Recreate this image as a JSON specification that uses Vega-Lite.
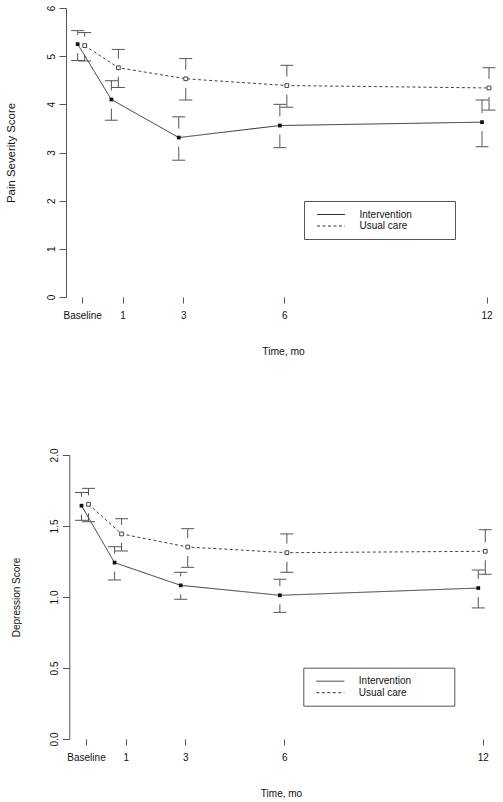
{
  "$schema": "https://vega.github.io/schema/vega-lite/v6.json",
  "padding": {"left": 5, "top": 5, "right": 0, "bottom": 0},
  "background": "white",
  "config": {
    "view": {"stroke": null},
    "font": "Liberation Sans",
    "axis": {
      "grid": false,
      "domainColor": "#555",
      "tickColor": "#555",
      "labelColor": "#111",
      "titleColor": "#111",
      "labelFontSize": 10,
      "titleFontSize": 10,
      "titleFontWeight": "normal",
      "labelFont": "Liberation Sans",
      "titleFont": "Liberation Sans",
      "labelFlush": false,
      "labelOverlap": false
    },
    "axisY": {
      "tickSize": 7,
      "labelAngle": 270,
      "labelAlign": "center",
      "labelBaseline": "bottom",
      "labelPadding": 3,
      "titlePadding": 30
    },
    "axisX": {
      "domain": false,
      "tickSize": 6,
      "labelPadding": 7,
      "titlePadding": 26
    },
    "legend": {
      "orient": "none",
      "title": null,
      "symbolType": "M-2.8,0H2.8M22.8,0",
      "symbolSize": 100,
      "symbolOffset": 13.5,
      "symbolStrokeWidth": 1,
      "symbolStrokeColor": "#333",
      "symbolFillColor": "transparent",
      "labelFont": "Liberation Sans",
      "labelFontSize": 10,
      "labelColor": "#111",
      "strokeColor": "#555",
      "fillColor": "white",
      "padding": 8,
      "labelOffset": 23,
      "rowPadding": 0.5
    }
  },
  "datasets": {
    "pain": [
      {"time": 0, "group": "Intervention", "mean": 5.25, "lo": 4.91, "hi": 5.53},
      {"time": 1, "group": "Intervention", "mean": 4.10, "lo": 3.67, "hi": 4.49},
      {"time": 3, "group": "Intervention", "mean": 3.31, "lo": 2.84, "hi": 3.74},
      {"time": 6, "group": "Intervention", "mean": 3.56, "lo": 3.10, "hi": 4.00},
      {"time": 12, "group": "Intervention", "mean": 3.63, "lo": 3.12, "hi": 4.09},
      {"time": 0, "group": "Usual care", "mean": 5.22, "lo": 4.90, "hi": 5.49},
      {"time": 1, "group": "Usual care", "mean": 4.76, "lo": 4.35, "hi": 5.14},
      {"time": 3, "group": "Usual care", "mean": 4.53, "lo": 4.09, "hi": 4.95},
      {"time": 6, "group": "Usual care", "mean": 4.39, "lo": 3.94, "hi": 4.81},
      {"time": 12, "group": "Usual care", "mean": 4.34, "lo": 3.88, "hi": 4.76}
    ],
    "dep": [
      {"time": 0, "group": "Intervention", "mean": 1.643, "lo": 1.540, "hi": 1.736},
      {"time": 1, "group": "Intervention", "mean": 1.242, "lo": 1.120, "hi": 1.354},
      {"time": 3, "group": "Intervention", "mean": 1.082, "lo": 0.984, "hi": 1.174},
      {"time": 6, "group": "Intervention", "mean": 1.012, "lo": 0.892, "hi": 1.125},
      {"time": 12, "group": "Intervention", "mean": 1.063, "lo": 0.923, "hi": 1.190},
      {"time": 0, "group": "Usual care", "mean": 1.653, "lo": 1.530, "hi": 1.765},
      {"time": 1, "group": "Usual care", "mean": 1.444, "lo": 1.324, "hi": 1.551},
      {"time": 3, "group": "Usual care", "mean": 1.352, "lo": 1.209, "hi": 1.481},
      {"time": 6, "group": "Usual care", "mean": 1.312, "lo": 1.174, "hi": 1.444},
      {"time": 12, "group": "Usual care", "mean": 1.322, "lo": 1.160, "hi": 1.474}
    ]
  },
  "columns": 1,
  "bounds": "flush",
  "spacing": 158,
  "resolve": {
    "scale": {"x": "independent", "y": "independent", "strokeDash": "independent"},
    "legend": {"strokeDash": "independent"}
  },
  "concat": [
    {
      "width": 434,
      "height": 289,
      "data": {"name": "pain"},
      "encoding": {
        "x": {
          "field": "time",
          "type": "quantitative",
          "scale": {"domain": [-0.48, 12.4], "nice": false, "zero": false},
          "axis": {
            "values": [0, 1.2, 3, 6, 12],
            "title": "Time, mo",
            "titleFontSize": 10.3,
            "labelExpr": "datum.value === 0 ? 'Baseline' : (datum.value === 1.2 ? '1' : datum.label)"
          }
        }
      },
      "layer": [
        {
          "data": {"values": [{}]},
          "mark": {"type": "rule", "color": "#555", "strokeWidth": 1},
          "encoding": {
            "x": {"datum": 0, "type": "quantitative"},
            "x2": {"datum": 12},
            "y": {"datum": 0, "type": "quantitative"}
          }
        },
        {
          "transform": [{"filter": "datum.group === 'Intervention'"}],
          "mark": {"type": "line", "xOffset": -4.5, "color": "#333", "strokeWidth": 1},
          "encoding": {
            "y": {
              "field": "mean",
              "type": "quantitative",
              "scale": {"domain": [0, 6], "nice": false, "zero": false},
              "axis": {"values": [0, 1, 2, 3, 4, 5, 6], "title": "Pain Severity Score", "titleFontSize": 11.4}
            },
            "strokeDash": {
              "field": "group",
              "type": "nominal",
              "scale": {"domain": ["Intervention", "Usual care"], "range": [[1, 0], [3, 2.5]]},
              "legend": {"legendX": 238, "legendY": 193, "symbolType": "M-2.8,0H2.8M22.8,0"}
            }
          }
        },
        {
          "transform": [{"filter": "datum.group === 'Usual care'"}],
          "mark": {"type": "line", "xOffset": 2.5, "color": "#444", "strokeWidth": 1},
          "encoding": {
            "y": {"field": "mean", "type": "quantitative"},
            "strokeDash": {"field": "group", "type": "nominal"}
          }
        },
        {
          "transform": [{"filter": "datum.group === 'Intervention'"}],
          "mark": {"type": "rule", "xOffset": -4.5, "y2Offset": -9, "color": "#555"},
          "encoding": {"y": {"field": "hi", "type": "quantitative"}, "y2": {"field": "mean"}}
        },
        {
          "transform": [{"filter": "datum.group === 'Intervention'"}],
          "mark": {"type": "rule", "xOffset": -4.5, "y2Offset": 9, "color": "#555"},
          "encoding": {"y": {"field": "lo", "type": "quantitative"}, "y2": {"field": "mean"}}
        },
        {
          "transform": [{"filter": "datum.group === 'Intervention'"}],
          "mark": {"type": "rule", "xOffset": -11, "x2Offset": 2, "color": "#555"},
          "encoding": {"x2": {"field": "time"}, "y": {"field": "hi", "type": "quantitative"}}
        },
        {
          "transform": [{"filter": "datum.group === 'Intervention'"}],
          "mark": {"type": "rule", "xOffset": -11, "x2Offset": 2, "color": "#555"},
          "encoding": {"x2": {"field": "time"}, "y": {"field": "lo", "type": "quantitative"}}
        },
        {
          "transform": [{"filter": "datum.group === 'Usual care'"}],
          "mark": {"type": "rule", "xOffset": 2.5, "y2Offset": -9, "color": "#555"},
          "encoding": {"y": {"field": "hi", "type": "quantitative"}, "y2": {"field": "mean"}}
        },
        {
          "transform": [{"filter": "datum.group === 'Usual care'"}],
          "mark": {"type": "rule", "xOffset": 2.5, "y2Offset": 9, "color": "#555"},
          "encoding": {"y": {"field": "lo", "type": "quantitative"}, "y2": {"field": "mean"}}
        },
        {
          "transform": [{"filter": "datum.group === 'Usual care'"}],
          "mark": {"type": "rule", "xOffset": -4, "x2Offset": 9, "color": "#555"},
          "encoding": {"x2": {"field": "time"}, "y": {"field": "hi", "type": "quantitative"}}
        },
        {
          "transform": [{"filter": "datum.group === 'Usual care'"}],
          "mark": {"type": "rule", "xOffset": -4, "x2Offset": 9, "color": "#555"},
          "encoding": {"x2": {"field": "time"}, "y": {"field": "lo", "type": "quantitative"}}
        },
        {
          "transform": [{"filter": "datum.group === 'Intervention'"}],
          "mark": {"type": "point", "shape": "square", "filled": true, "size": 14, "color": "#111", "opacity": 1, "xOffset": -4.5},
          "encoding": {"y": {"field": "mean", "type": "quantitative"}}
        },
        {
          "transform": [{"filter": "datum.group === 'Usual care'"}],
          "mark": {"type": "point", "shape": "square", "fill": "white", "stroke": "#444", "strokeWidth": 1, "size": 14, "opacity": 1, "xOffset": 2.5},
          "encoding": {"y": {"field": "mean", "type": "quantitative"}}
        }
      ]
    },
    {
      "width": 430,
      "height": 284,
      "data": {"name": "dep"},
      "encoding": {
        "x": {
          "field": "time",
          "type": "quantitative",
          "scale": {"domain": [-0.605, 12.4], "nice": false, "zero": false},
          "axis": {
            "values": [0, 1.2, 3, 6, 12],
            "title": "Time, mo",
            "labelExpr": "datum.value === 0 ? 'Baseline' : (datum.value === 1.2 ? '1' : datum.label)"
          }
        }
      },
      "layer": [
        {
          "data": {"values": [{}]},
          "mark": {"type": "rule", "color": "#555", "strokeWidth": 1},
          "encoding": {
            "x": {"datum": 0, "type": "quantitative"},
            "x2": {"datum": 12},
            "y": {"datum": 0, "type": "quantitative"}
          }
        },
        {
          "transform": [{"filter": "datum.group === 'Intervention'"}],
          "mark": {"type": "line", "xOffset": -4.5, "color": "#333", "strokeWidth": 1},
          "encoding": {
            "y": {
              "field": "mean",
              "type": "quantitative",
              "scale": {"domain": [0, 2], "nice": false, "zero": false},
              "axis": {"values": [0, 0.5, 1, 1.5, 2], "format": ".1f", "title": "Depression Score", "titlePadding": 28.3, "offset": -3.3}
            },
            "strokeDash": {
              "field": "group",
              "type": "nominal",
              "scale": {"domain": ["Intervention", "Usual care"], "range": [[1, 0], [3, 2.5]]},
              "legend": {"legendX": 237.3, "legendY": 212.7, "symbolType": "M-2.8,0H2.8M22.8,0"}
            }
          }
        },
        {
          "transform": [{"filter": "datum.group === 'Usual care'"}],
          "mark": {"type": "line", "xOffset": 2.5, "color": "#444", "strokeWidth": 1},
          "encoding": {
            "y": {"field": "mean", "type": "quantitative"},
            "strokeDash": {"field": "group", "type": "nominal"}
          }
        },
        {
          "transform": [{"filter": "datum.group === 'Intervention'"}],
          "mark": {"type": "rule", "xOffset": -4.5, "y2Offset": -9, "color": "#555"},
          "encoding": {"y": {"field": "hi", "type": "quantitative"}, "y2": {"field": "mean"}}
        },
        {
          "transform": [{"filter": "datum.group === 'Intervention'"}],
          "mark": {"type": "rule", "xOffset": -4.5, "y2Offset": 9, "color": "#555"},
          "encoding": {"y": {"field": "lo", "type": "quantitative"}, "y2": {"field": "mean"}}
        },
        {
          "transform": [{"filter": "datum.group === 'Intervention'"}],
          "mark": {"type": "rule", "xOffset": -11, "x2Offset": 2, "color": "#555"},
          "encoding": {"x2": {"field": "time"}, "y": {"field": "hi", "type": "quantitative"}}
        },
        {
          "transform": [{"filter": "datum.group === 'Intervention'"}],
          "mark": {"type": "rule", "xOffset": -11, "x2Offset": 2, "color": "#555"},
          "encoding": {"x2": {"field": "time"}, "y": {"field": "lo", "type": "quantitative"}}
        },
        {
          "transform": [{"filter": "datum.group === 'Usual care'"}],
          "mark": {"type": "rule", "xOffset": 2.5, "y2Offset": -9, "color": "#555"},
          "encoding": {"y": {"field": "hi", "type": "quantitative"}, "y2": {"field": "mean"}}
        },
        {
          "transform": [{"filter": "datum.group === 'Usual care'"}],
          "mark": {"type": "rule", "xOffset": 2.5, "y2Offset": 9, "color": "#555"},
          "encoding": {"y": {"field": "lo", "type": "quantitative"}, "y2": {"field": "mean"}}
        },
        {
          "transform": [{"filter": "datum.group === 'Usual care'"}],
          "mark": {"type": "rule", "xOffset": -4, "x2Offset": 9, "color": "#555"},
          "encoding": {"x2": {"field": "time"}, "y": {"field": "hi", "type": "quantitative"}}
        },
        {
          "transform": [{"filter": "datum.group === 'Usual care'"}],
          "mark": {"type": "rule", "xOffset": -4, "x2Offset": 9, "color": "#555"},
          "encoding": {"x2": {"field": "time"}, "y": {"field": "lo", "type": "quantitative"}}
        },
        {
          "transform": [{"filter": "datum.group === 'Intervention'"}],
          "mark": {"type": "point", "shape": "square", "filled": true, "size": 14, "color": "#111", "opacity": 1, "xOffset": -4.5},
          "encoding": {"y": {"field": "mean", "type": "quantitative"}}
        },
        {
          "transform": [{"filter": "datum.group === 'Usual care'"}],
          "mark": {"type": "point", "shape": "square", "fill": "white", "stroke": "#444", "strokeWidth": 1, "size": 14, "opacity": 1, "xOffset": 2.5},
          "encoding": {"y": {"field": "mean", "type": "quantitative"}}
        }
      ]
    }
  ]
}
